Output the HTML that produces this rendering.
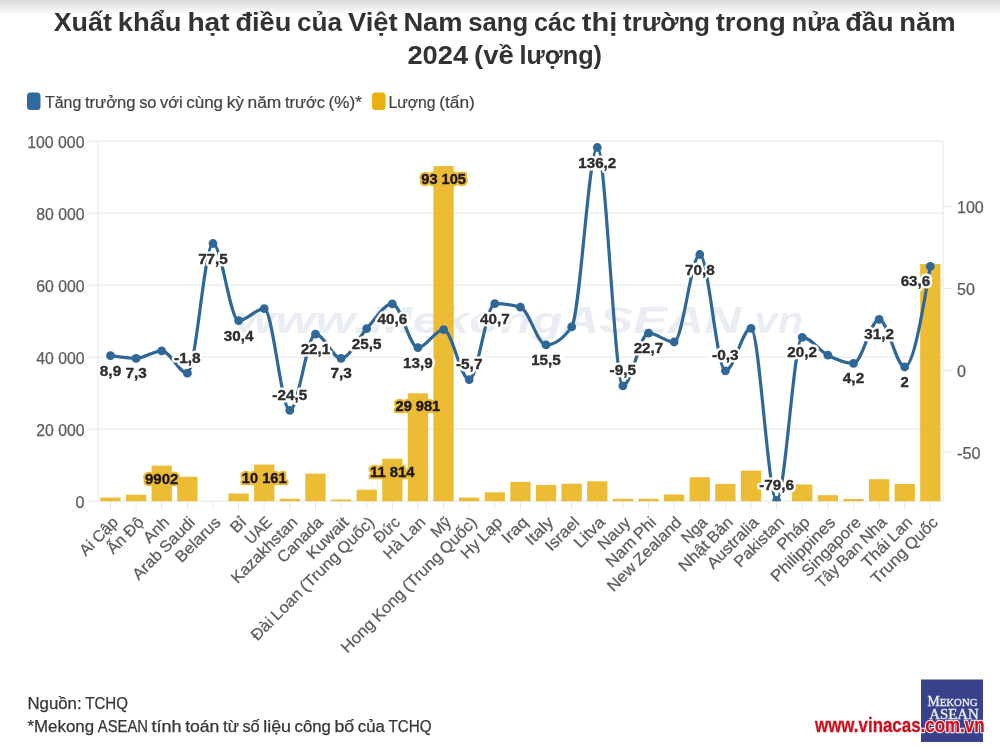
<!DOCTYPE html>
<html lang="vi"><head><meta charset="utf-8"><title>Xuất khẩu hạt điều của Việt Nam</title>
<style>
html,body{margin:0;padding:0;background:#fff;}
body{width:1000px;height:749px;overflow:hidden;}
svg{display:block;font-family:"Liberation Sans", sans-serif;}
.title{font-weight:700;font-size:26px;fill:#333;}
.body{font-size:16px;fill:#444;stroke:#444;stroke-width:0.2px;}
.foot{font-size:16px;fill:#363636;stroke:#363636;stroke-width:0.25px;}
.ax{font-size:16px;fill:#5c5c5c;stroke:#5c5c5c;stroke-width:0.25px;}
.gl,.vl,.lt,.lb{font-weight:700;font-size:14.5px;text-anchor:middle;}
.gl{fill:#fff;stroke:#fff;stroke-width:5px;stroke-linejoin:round;}
.lt{fill:#2e2e2e;stroke:#2e2e2e;stroke-width:0.35px;}
.lb{fill:#1c1608;stroke:#1c1608;stroke-width:0.35px;}
.vl{fill:#ebbb36;stroke:#ebbb36;stroke-width:4.6px;stroke-linejoin:round;}
.grid line{stroke:#e6e6e6;stroke-width:1;}
.bars rect{fill:#e9b010;fill-opacity:0.85;}
.dots circle{fill:#2f6898;}
</style></head><body>
<svg width="1000" height="749" viewBox="0 0 1000 749">
<defs><clipPath id="cp"><rect x="90" y="141.2" width="860" height="360"/></clipPath><linearGradient id="tg" x1="0" y1="0" x2="0" y2="1"><stop offset="0" stop-color="#dbdbdb"/><stop offset="1" stop-color="#ffffff"/></linearGradient></defs>
<rect x="0" y="0" width="1000" height="749" fill="#ffffff"/>
<rect x="0" y="0" width="1000" height="15" fill="url(#tg)"/>

<text class="title" y="31"><tspan x="53.7" textLength="58.2" lengthAdjust="spacingAndGlyphs">Xuất</tspan> <tspan x="117.7" textLength="63.9" lengthAdjust="spacingAndGlyphs">khẩu</tspan> <tspan x="187.4" textLength="42.2" lengthAdjust="spacingAndGlyphs">hạt</tspan> <tspan x="235.4" textLength="55.9" lengthAdjust="spacingAndGlyphs">điều</tspan> <tspan x="297" textLength="45.1" lengthAdjust="spacingAndGlyphs">của</tspan> <tspan x="347.9" textLength="49.7" lengthAdjust="spacingAndGlyphs">Việt</tspan> <tspan x="403.4" textLength="59.2" lengthAdjust="spacingAndGlyphs">Nam</tspan> <tspan x="468.3" textLength="59.9" lengthAdjust="spacingAndGlyphs">sang</tspan> <tspan x="534.1" textLength="41.9" lengthAdjust="spacingAndGlyphs">các</tspan> <tspan x="581.8" textLength="35.5" lengthAdjust="spacingAndGlyphs">thị</tspan> <tspan x="623.1" textLength="86.9" lengthAdjust="spacingAndGlyphs">trường</tspan> <tspan x="715.7" textLength="70.2" lengthAdjust="spacingAndGlyphs">trong</tspan> <tspan x="791.7" textLength="47.8" lengthAdjust="spacingAndGlyphs">nửa</tspan> <tspan x="845.3" textLength="48.2" lengthAdjust="spacingAndGlyphs">đầu</tspan> <tspan x="899.2" textLength="56.5" lengthAdjust="spacingAndGlyphs">năm</tspan></text>
<text class="title" y="63.6"><tspan x="407.4" textLength="60.8" lengthAdjust="spacingAndGlyphs">2024</tspan> <tspan x="474.1" textLength="39.7" lengthAdjust="spacingAndGlyphs">(về</tspan> <tspan x="519.5" textLength="82.5" lengthAdjust="spacingAndGlyphs">lượng)</tspan></text>
<rect x="27" y="92.5" width="13.5" height="17.5" rx="3.5" fill="#2f6ba0"/>
<text class="body" y="107.5"><tspan x="45" textLength="36.3" lengthAdjust="spacingAndGlyphs">Tăng</tspan> <tspan x="84.9" textLength="50.7" lengthAdjust="spacingAndGlyphs">trưởng</tspan> <tspan x="139.2" textLength="17.3" lengthAdjust="spacingAndGlyphs">so</tspan> <tspan x="160.1" textLength="22.5" lengthAdjust="spacingAndGlyphs">với</tspan> <tspan x="186.2" textLength="36.9" lengthAdjust="spacingAndGlyphs">cùng</tspan> <tspan x="226.7" textLength="17.3" lengthAdjust="spacingAndGlyphs">kỳ</tspan> <tspan x="247.5" textLength="33.8" lengthAdjust="spacingAndGlyphs">năm</tspan> <tspan x="285" textLength="40" lengthAdjust="spacingAndGlyphs">trước</tspan> <tspan x="328.6" textLength="33.2" lengthAdjust="spacingAndGlyphs">(%)*</tspan></text>
<rect x="372" y="92.5" width="13.5" height="17.5" rx="3.5" fill="#e9b010"/>
<text class="body" y="107.5"><tspan x="388.5" textLength="47.1" lengthAdjust="spacingAndGlyphs">Lượng</tspan> <tspan x="439.2" textLength="35.6" lengthAdjust="spacingAndGlyphs">(tấn)</tspan></text>
<g class="grid">
<line x1="89" x2="943" y1="501.2" y2="501.2"/>
<line x1="89" x2="943" y1="429.2" y2="429.2"/>
<line x1="89" x2="943" y1="357.2" y2="357.2"/>
<line x1="89" x2="943" y1="285.2" y2="285.2"/>
<line x1="89" x2="943" y1="213.2" y2="213.2"/>
<line x1="89" x2="943" y1="141.2" y2="141.2"/>
<line x1="98.2" x2="98.2" y1="141.2" y2="501.2"/>
<line x1="943" x2="943" y1="141.2" y2="501.2"/>
<line x1="943" x2="952" y1="206.7" y2="206.7"/>
<line x1="943" x2="952" y1="288.5" y2="288.5"/>
<line x1="943" x2="952" y1="370.3" y2="370.3"/>
<line x1="943" x2="952" y1="452.1" y2="452.1"/>
<line x1="110.5" x2="110.5" y1="501.2" y2="510.3"/>
<line x1="136.1" x2="136.1" y1="501.2" y2="510.3"/>
<line x1="161.7" x2="161.7" y1="501.2" y2="510.3"/>
<line x1="187.4" x2="187.4" y1="501.2" y2="510.3"/>
<line x1="213" x2="213" y1="501.2" y2="510.3"/>
<line x1="238.6" x2="238.6" y1="501.2" y2="510.3"/>
<line x1="264.2" x2="264.2" y1="501.2" y2="510.3"/>
<line x1="289.8" x2="289.8" y1="501.2" y2="510.3"/>
<line x1="315.5" x2="315.5" y1="501.2" y2="510.3"/>
<line x1="341.1" x2="341.1" y1="501.2" y2="510.3"/>
<line x1="366.7" x2="366.7" y1="501.2" y2="510.3"/>
<line x1="392.3" x2="392.3" y1="501.2" y2="510.3"/>
<line x1="417.9" x2="417.9" y1="501.2" y2="510.3"/>
<line x1="443.6" x2="443.6" y1="501.2" y2="510.3"/>
<line x1="469.2" x2="469.2" y1="501.2" y2="510.3"/>
<line x1="494.8" x2="494.8" y1="501.2" y2="510.3"/>
<line x1="520.4" x2="520.4" y1="501.2" y2="510.3"/>
<line x1="546" x2="546" y1="501.2" y2="510.3"/>
<line x1="571.7" x2="571.7" y1="501.2" y2="510.3"/>
<line x1="597.3" x2="597.3" y1="501.2" y2="510.3"/>
<line x1="622.9" x2="622.9" y1="501.2" y2="510.3"/>
<line x1="648.5" x2="648.5" y1="501.2" y2="510.3"/>
<line x1="674.1" x2="674.1" y1="501.2" y2="510.3"/>
<line x1="699.8" x2="699.8" y1="501.2" y2="510.3"/>
<line x1="725.4" x2="725.4" y1="501.2" y2="510.3"/>
<line x1="751" x2="751" y1="501.2" y2="510.3"/>
<line x1="776.6" x2="776.6" y1="501.2" y2="510.3"/>
<line x1="802.2" x2="802.2" y1="501.2" y2="510.3"/>
<line x1="827.9" x2="827.9" y1="501.2" y2="510.3"/>
<line x1="853.5" x2="853.5" y1="501.2" y2="510.3"/>
<line x1="879.1" x2="879.1" y1="501.2" y2="510.3"/>
<line x1="904.7" x2="904.7" y1="501.2" y2="510.3"/>
<line x1="930.3" x2="930.3" y1="501.2" y2="510.3"/>
</g>
<g font-size="37" font-weight="700" font-style="italic" fill="#ebedf5"><text x="235" y="332.5" textLength="133" lengthAdjust="spacingAndGlyphs">www.</text><text x="370" y="332.5" textLength="371" lengthAdjust="spacingAndGlyphs">MekongASEAN</text><text x="743" y="332.5" textLength="60" lengthAdjust="spacingAndGlyphs">.vn</text></g>
<text class="ax" x="84.5" y="507.6" text-anchor="end" textLength="9.0" lengthAdjust="spacingAndGlyphs">0</text>
<text class="ax" x="84.5" y="435.6" text-anchor="end" textLength="48.3" lengthAdjust="spacingAndGlyphs">20 000</text>
<text class="ax" x="84.5" y="363.6" text-anchor="end" textLength="48.3" lengthAdjust="spacingAndGlyphs">40 000</text>
<text class="ax" x="84.5" y="291.6" text-anchor="end" textLength="48.3" lengthAdjust="spacingAndGlyphs">60 000</text>
<text class="ax" x="84.5" y="219.6" text-anchor="end" textLength="48.3" lengthAdjust="spacingAndGlyphs">80 000</text>
<text class="ax" x="84.5" y="147.6" text-anchor="end" textLength="57.3" lengthAdjust="spacingAndGlyphs">100 000</text>
<text class="ax" x="957" y="213.1" textLength="26.8" lengthAdjust="spacingAndGlyphs">100</text>
<text class="ax" x="957" y="294.9" textLength="17.9" lengthAdjust="spacingAndGlyphs">50</text>
<text class="ax" x="957" y="376.7" textLength="9.0" lengthAdjust="spacingAndGlyphs">0</text>
<text class="ax" x="957" y="458.5" textLength="23.5" lengthAdjust="spacingAndGlyphs">-50</text>
<g class="bars">
<rect x="100.3" y="497.6" width="20.3" height="3.6"/>
<rect x="126" y="494.7" width="20.3" height="6.5"/>
<rect x="151.6" y="465.6" width="20.3" height="35.6"/>
<rect x="177.2" y="476.7" width="20.3" height="24.5"/>
<rect x="202.8" y="501.1" width="20.3" height="0.1"/>
<rect x="228.4" y="493.5" width="20.3" height="7.7"/>
<rect x="254.1" y="464.6" width="20.3" height="36.6"/>
<rect x="279.7" y="498.8" width="20.3" height="2.4"/>
<rect x="305.3" y="473.6" width="20.3" height="27.6"/>
<rect x="330.9" y="499.5" width="20.3" height="1.7"/>
<rect x="356.6" y="489.7" width="20.3" height="11.5"/>
<rect x="382.2" y="458.7" width="20.3" height="42.5"/>
<rect x="407.8" y="393.3" width="20.3" height="107.9"/>
<rect x="433.4" y="166" width="20.3" height="335.2"/>
<rect x="459" y="497.6" width="20.3" height="3.6"/>
<rect x="484.7" y="492.3" width="20.3" height="8.9"/>
<rect x="510.3" y="482" width="20.3" height="19.2"/>
<rect x="535.9" y="484.9" width="20.3" height="16.3"/>
<rect x="561.5" y="483.7" width="20.3" height="17.5"/>
<rect x="587.1" y="481.3" width="20.3" height="19.9"/>
<rect x="612.8" y="498.8" width="20.3" height="2.4"/>
<rect x="638.4" y="498.8" width="20.3" height="2.4"/>
<rect x="664" y="494.5" width="20.3" height="6.7"/>
<rect x="689.6" y="477.2" width="20.3" height="24"/>
<rect x="715.2" y="483.9" width="20.3" height="17.3"/>
<rect x="740.9" y="470.6" width="20.3" height="30.6"/>
<rect x="766.5" y="501.2" width="20.3" height="0"/>
<rect x="792.1" y="484.5" width="20.3" height="16.7"/>
<rect x="817.7" y="495.2" width="20.3" height="6"/>
<rect x="843.3" y="499" width="20.3" height="2.2"/>
<rect x="869" y="479.2" width="20.3" height="22"/>
<rect x="894.6" y="484" width="20.3" height="17.2"/>
<rect x="920.2" y="264" width="20.3" height="237.2"/>
</g>
<g clip-path="url(#cp)">
<path d="M110.5,355.7C119,357,127.6,358.4,136.1,358.4C144.7,358.4,153.2,350.8,161.7,350.8C170.3,350.8,178.8,373.2,187.4,373.2C195.9,373.2,204.4,243.5,213,243.5C221.5,243.5,230.1,320.6,238.6,320.6C247.1,320.6,255.7,308.6,264.2,308.6C272.8,308.6,281.3,410.4,289.8,410.4C298.4,410.4,306.9,334.1,315.5,334.1C324,334.1,332.5,358.4,341.1,358.4C349.6,358.4,358.2,337.7,366.7,328.6C375.2,319.5,383.8,303.9,392.3,303.9C400.9,303.9,409.4,347.6,417.9,347.6C426.5,347.6,435,329.6,443.6,329.6C452.1,329.6,460.6,379.6,469.2,379.6C477.7,379.6,486.3,303.7,494.8,303.7C503.3,303.7,511.9,304.9,520.4,307.2C529,309.4,537.5,344.9,546,344.9C554.6,344.9,563.1,338.9,571.7,326.9C580.2,314.9,588.7,147.5,597.3,147.5C605.8,147.5,614.4,385.8,622.9,385.8C631.4,385.8,640,333.2,648.5,333.2C657.1,333.2,665.6,342,674.1,342C682.7,342,691.2,254.5,699.8,254.5C708.3,254.5,716.8,370.8,725.4,370.8C733.9,370.8,742.5,328.4,751,328.4C759.5,328.4,768.1,500.5,776.6,500.5C785.2,500.5,793.7,337.3,802.2,337.3C810.8,337.3,819.3,350.9,827.9,355.2C836.4,359.6,844.9,363.4,853.5,363.4C862,363.4,870.6,319.3,879.1,319.3C887.6,319.3,896.2,367,904.7,367C913.3,367,921.8,316.6,930.3,266.3" fill="none" stroke="#2f6898" stroke-width="3.2" stroke-linejoin="round" stroke-linecap="round"/>
<g class="dots">
<circle cx="110.5" cy="355.7" r="4.4"/>
<circle cx="136.1" cy="358.4" r="4.4"/>
<circle cx="161.7" cy="350.8" r="4.4"/>
<circle cx="187.4" cy="373.2" r="4.4"/>
<circle cx="213" cy="243.5" r="4.4"/>
<circle cx="238.6" cy="320.6" r="4.4"/>
<circle cx="264.2" cy="308.6" r="4.4"/>
<circle cx="289.8" cy="410.4" r="4.4"/>
<circle cx="315.5" cy="334.1" r="4.4"/>
<circle cx="341.1" cy="358.4" r="4.4"/>
<circle cx="366.7" cy="328.6" r="4.4"/>
<circle cx="392.3" cy="303.9" r="4.4"/>
<circle cx="417.9" cy="347.6" r="4.4"/>
<circle cx="443.6" cy="329.6" r="4.4"/>
<circle cx="469.2" cy="379.6" r="4.4"/>
<circle cx="494.8" cy="303.7" r="4.4"/>
<circle cx="520.4" cy="307.2" r="4.4"/>
<circle cx="546" cy="344.9" r="4.4"/>
<circle cx="571.7" cy="326.9" r="4.4"/>
<circle cx="597.3" cy="147.5" r="4.4"/>
<circle cx="622.9" cy="385.8" r="4.4"/>
<circle cx="648.5" cy="333.2" r="4.4"/>
<circle cx="674.1" cy="342" r="4.4"/>
<circle cx="699.8" cy="254.5" r="4.4"/>
<circle cx="725.4" cy="370.8" r="4.4"/>
<circle cx="751" cy="328.4" r="4.4"/>
<circle cx="776.6" cy="500.5" r="4.4"/>
<circle cx="802.2" cy="337.3" r="4.4"/>
<circle cx="827.9" cy="355.2" r="4.4"/>
<circle cx="853.5" cy="363.4" r="4.4"/>
<circle cx="879.1" cy="319.3" r="4.4"/>
<circle cx="904.7" cy="367" r="4.4"/>
<circle cx="930.3" cy="266.3" r="4.4"/>
</g></g>
<text class="ax" transform="translate(119.1,523.3) rotate(-45)"><tspan x="-47.2" textLength="14.2" lengthAdjust="spacingAndGlyphs">Ai</tspan> <tspan x="-29.3" textLength="29.3" lengthAdjust="spacingAndGlyphs">Cập</tspan></text>
<text class="ax" transform="translate(144.7,523.3) rotate(-45)"><tspan x="-44.4" textLength="19.6" lengthAdjust="spacingAndGlyphs">Ấn</tspan> <tspan x="-21.2" textLength="21.2" lengthAdjust="spacingAndGlyphs">Độ</tspan></text>
<text class="ax" transform="translate(170.3,523.3) rotate(-45)"><tspan x="-29.4" textLength="29.4" lengthAdjust="spacingAndGlyphs">Anh</tspan></text>
<text class="ax" transform="translate(196,523.3) rotate(-45)"><tspan x="-81.1" textLength="34.6" lengthAdjust="spacingAndGlyphs">Arab</tspan> <tspan x="-42.9" textLength="42.9" lengthAdjust="spacingAndGlyphs">Saudi</tspan></text>
<text class="ax" transform="translate(221.6,523.3) rotate(-45)"><tspan x="-56.8" textLength="56.8" lengthAdjust="spacingAndGlyphs">Belarus</tspan></text>
<text class="ax" transform="translate(247.2,523.3) rotate(-45)"><tspan x="-15" textLength="15" lengthAdjust="spacingAndGlyphs">Bỉ</tspan></text>
<text class="ax" transform="translate(272.8,523.3) rotate(-45)"><tspan x="-30.6" textLength="30.6" lengthAdjust="spacingAndGlyphs">UAE</tspan></text>
<text class="ax" transform="translate(298.4,523.3) rotate(-45)"><tspan x="-86.3" textLength="86.3" lengthAdjust="spacingAndGlyphs">Kazakhstan</tspan></text>
<text class="ax" transform="translate(324.1,523.3) rotate(-45)"><tspan x="-57.3" textLength="57.3" lengthAdjust="spacingAndGlyphs">Canada</tspan></text>
<text class="ax" transform="translate(349.7,523.3) rotate(-45)"><tspan x="-52.3" textLength="52.3" lengthAdjust="spacingAndGlyphs">Kuwait</tspan></text>
<text class="ax" transform="translate(375.3,523.3) rotate(-45)"><tspan x="-167.1" textLength="24.9" lengthAdjust="spacingAndGlyphs">Đài</tspan> <tspan x="-138.5" textLength="37" lengthAdjust="spacingAndGlyphs">Loan</tspan> <tspan x="-98" textLength="49.2" lengthAdjust="spacingAndGlyphs">(Trung</tspan> <tspan x="-45.2" textLength="45.2" lengthAdjust="spacingAndGlyphs">Quốc)</tspan></text>
<text class="ax" transform="translate(400.9,523.3) rotate(-45)"><tspan x="-29.4" textLength="29.4" lengthAdjust="spacingAndGlyphs">Đức</tspan></text>
<text class="ax" transform="translate(426.5,523.3) rotate(-45)"><tspan x="-52.1" textLength="20.8" lengthAdjust="spacingAndGlyphs">Hà</tspan> <tspan x="-27.7" textLength="27.7" lengthAdjust="spacingAndGlyphs">Lan</tspan></text>
<text class="ax" transform="translate(452.2,523.3) rotate(-45)"><tspan x="-21.5" textLength="21.5" lengthAdjust="spacingAndGlyphs">Mỹ</tspan></text>
<text class="ax" transform="translate(477.8,523.3) rotate(-45)"><tspan x="-184.6" textLength="40.4" lengthAdjust="spacingAndGlyphs">Hong</tspan> <tspan x="-140.5" textLength="39" lengthAdjust="spacingAndGlyphs">Kong</tspan> <tspan x="-98" textLength="49.2" lengthAdjust="spacingAndGlyphs">(Trung</tspan> <tspan x="-45.2" textLength="45.2" lengthAdjust="spacingAndGlyphs">Quốc)</tspan></text>
<text class="ax" transform="translate(503.4,523.3) rotate(-45)"><tspan x="-51.6" textLength="20.2" lengthAdjust="spacingAndGlyphs">Hy</tspan> <tspan x="-27.8" textLength="27.8" lengthAdjust="spacingAndGlyphs">Lạp</tspan></text>
<text class="ax" transform="translate(529,523.3) rotate(-45)"><tspan x="-29.6" textLength="29.6" lengthAdjust="spacingAndGlyphs">Iraq</tspan></text>
<text class="ax" transform="translate(554.6,523.3) rotate(-45)"><tspan x="-32.5" textLength="32.5" lengthAdjust="spacingAndGlyphs">Italy</tspan></text>
<text class="ax" transform="translate(580.3,523.3) rotate(-45)"><tspan x="-40.7" textLength="40.7" lengthAdjust="spacingAndGlyphs">Israel</tspan></text>
<text class="ax" transform="translate(605.9,523.3) rotate(-45)"><tspan x="-36.4" textLength="36.4" lengthAdjust="spacingAndGlyphs">Litva</tspan></text>
<text class="ax" transform="translate(631.5,523.3) rotate(-45)"><tspan x="-38.9" textLength="38.9" lengthAdjust="spacingAndGlyphs">Nauy</tspan></text>
<text class="ax" transform="translate(657.1,523.3) rotate(-45)"><tspan x="-63.7" textLength="35.6" lengthAdjust="spacingAndGlyphs">Nam</tspan> <tspan x="-24.4" textLength="24.4" lengthAdjust="spacingAndGlyphs">Phi</tspan></text>
<text class="ax" transform="translate(682.7,523.3) rotate(-45)"><tspan x="-97.8" textLength="33.6" lengthAdjust="spacingAndGlyphs">New</tspan> <tspan x="-60.6" textLength="60.6" lengthAdjust="spacingAndGlyphs">Zealand</tspan></text>
<text class="ax" transform="translate(708.4,523.3) rotate(-45)"><tspan x="-29.5" textLength="29.5" lengthAdjust="spacingAndGlyphs">Nga</tspan></text>
<text class="ax" transform="translate(734,523.3) rotate(-45)"><tspan x="-69.5" textLength="36.4" lengthAdjust="spacingAndGlyphs">Nhật</tspan> <tspan x="-29.5" textLength="29.5" lengthAdjust="spacingAndGlyphs">Bản</tspan></text>
<text class="ax" transform="translate(759.6,523.3) rotate(-45)"><tspan x="-65.7" textLength="65.7" lengthAdjust="spacingAndGlyphs">Australia</tspan></text>
<text class="ax" transform="translate(785.2,523.3) rotate(-45)"><tspan x="-63.6" textLength="63.6" lengthAdjust="spacingAndGlyphs">Pakistan</tspan></text>
<text class="ax" transform="translate(810.8,523.3) rotate(-45)"><tspan x="-39" textLength="39" lengthAdjust="spacingAndGlyphs">Pháp</tspan></text>
<text class="ax" transform="translate(836.5,523.3) rotate(-45)"><tspan x="-84.2" textLength="84.2" lengthAdjust="spacingAndGlyphs">Philippines</tspan></text>
<text class="ax" transform="translate(862.1,523.3) rotate(-45)"><tspan x="-76.5" textLength="76.5" lengthAdjust="spacingAndGlyphs">Singapore</tspan></text>
<text class="ax" transform="translate(887.7,523.3) rotate(-45)"><tspan x="-93" textLength="25.8" lengthAdjust="spacingAndGlyphs">Tây</tspan> <tspan x="-63.6" textLength="29.5" lengthAdjust="spacingAndGlyphs">Ban</tspan> <tspan x="-30.5" textLength="30.5" lengthAdjust="spacingAndGlyphs">Nha</tspan></text>
<text class="ax" transform="translate(913.3,523.3) rotate(-45)"><tspan x="-64.2" textLength="33" lengthAdjust="spacingAndGlyphs">Thái</tspan> <tspan x="-27.7" textLength="27.7" lengthAdjust="spacingAndGlyphs">Lan</tspan></text>
<text class="ax" transform="translate(938.9,523.3) rotate(-45)"><tspan x="-87.1" textLength="43.8" lengthAdjust="spacingAndGlyphs">Trung</tspan> <tspan x="-39.7" textLength="39.7" lengthAdjust="spacingAndGlyphs">Quốc</tspan></text>
<text class="vl" x="161.7" y="483.6" textLength="33.3" lengthAdjust="spacingAndGlyphs">9902</text>
<text class="lb" x="161.7" y="483.6" textLength="33.3" lengthAdjust="spacingAndGlyphs">9902</text>
<text class="vl" x="264.2" y="482.6" textLength="44.7" lengthAdjust="spacingAndGlyphs">10 161</text>
<text class="lb" x="264.2" y="482.6" textLength="44.7" lengthAdjust="spacingAndGlyphs">10 161</text>
<text class="vl" x="392.3" y="476.7" textLength="44.7" lengthAdjust="spacingAndGlyphs">11 814</text>
<text class="lb" x="392.3" y="476.7" textLength="44.7" lengthAdjust="spacingAndGlyphs">11 814</text>
<text class="vl" x="417.9" y="411.3" textLength="44.7" lengthAdjust="spacingAndGlyphs">29 981</text>
<text class="lb" x="417.9" y="411.3" textLength="44.7" lengthAdjust="spacingAndGlyphs">29 981</text>
<text class="vl" x="443.6" y="184" textLength="44.7" lengthAdjust="spacingAndGlyphs">93 105</text>
<text class="lb" x="443.6" y="184" textLength="44.7" lengthAdjust="spacingAndGlyphs">93 105</text>
<text class="gl" x="110.5" y="375.7" textLength="21.4" lengthAdjust="spacingAndGlyphs">8,9</text>
<text class="lt" x="110.5" y="375.7" textLength="21.4" lengthAdjust="spacingAndGlyphs">8,9</text>
<text class="gl" x="136.1" y="378.4" textLength="21.4" lengthAdjust="spacingAndGlyphs">7,3</text>
<text class="lt" x="136.1" y="378.4" textLength="21.4" lengthAdjust="spacingAndGlyphs">7,3</text>
<text class="gl" x="187.4" y="362.7" textLength="26.6" lengthAdjust="spacingAndGlyphs">-1,8</text>
<text class="lt" x="187.4" y="362.7" textLength="26.6" lengthAdjust="spacingAndGlyphs">-1,8</text>
<text class="gl" x="213" y="263.5" textLength="29.7" lengthAdjust="spacingAndGlyphs">77,5</text>
<text class="lt" x="213" y="263.5" textLength="29.7" lengthAdjust="spacingAndGlyphs">77,5</text>
<text class="gl" x="238.6" y="340.6" textLength="29.7" lengthAdjust="spacingAndGlyphs">30,4</text>
<text class="lt" x="238.6" y="340.6" textLength="29.7" lengthAdjust="spacingAndGlyphs">30,4</text>
<text class="gl" x="289.8" y="399.9" textLength="34.9" lengthAdjust="spacingAndGlyphs">-24,5</text>
<text class="lt" x="289.8" y="399.9" textLength="34.9" lengthAdjust="spacingAndGlyphs">-24,5</text>
<text class="gl" x="315.5" y="354.1" textLength="29.7" lengthAdjust="spacingAndGlyphs">22,1</text>
<text class="lt" x="315.5" y="354.1" textLength="29.7" lengthAdjust="spacingAndGlyphs">22,1</text>
<text class="gl" x="341.1" y="378.4" textLength="21.4" lengthAdjust="spacingAndGlyphs">7,3</text>
<text class="lt" x="341.1" y="378.4" textLength="21.4" lengthAdjust="spacingAndGlyphs">7,3</text>
<text class="gl" x="366.7" y="348.6" textLength="29.7" lengthAdjust="spacingAndGlyphs">25,5</text>
<text class="lt" x="366.7" y="348.6" textLength="29.7" lengthAdjust="spacingAndGlyphs">25,5</text>
<text class="gl" x="392.3" y="323.9" textLength="29.7" lengthAdjust="spacingAndGlyphs">40,6</text>
<text class="lt" x="392.3" y="323.9" textLength="29.7" lengthAdjust="spacingAndGlyphs">40,6</text>
<text class="gl" x="417.9" y="367.6" textLength="29.7" lengthAdjust="spacingAndGlyphs">13,9</text>
<text class="lt" x="417.9" y="367.6" textLength="29.7" lengthAdjust="spacingAndGlyphs">13,9</text>
<text class="gl" x="469.2" y="369.1" textLength="26.6" lengthAdjust="spacingAndGlyphs">-5,7</text>
<text class="lt" x="469.2" y="369.1" textLength="26.6" lengthAdjust="spacingAndGlyphs">-5,7</text>
<text class="gl" x="494.8" y="323.7" textLength="29.7" lengthAdjust="spacingAndGlyphs">40,7</text>
<text class="lt" x="494.8" y="323.7" textLength="29.7" lengthAdjust="spacingAndGlyphs">40,7</text>
<text class="gl" x="546" y="364.9" textLength="29.7" lengthAdjust="spacingAndGlyphs">15,5</text>
<text class="lt" x="546" y="364.9" textLength="29.7" lengthAdjust="spacingAndGlyphs">15,5</text>
<text class="gl" x="597.3" y="167.5" textLength="38" lengthAdjust="spacingAndGlyphs">136,2</text>
<text class="lt" x="597.3" y="167.5" textLength="38" lengthAdjust="spacingAndGlyphs">136,2</text>
<text class="gl" x="622.9" y="375.3" textLength="26.6" lengthAdjust="spacingAndGlyphs">-9,5</text>
<text class="lt" x="622.9" y="375.3" textLength="26.6" lengthAdjust="spacingAndGlyphs">-9,5</text>
<text class="gl" x="648.5" y="353.2" textLength="29.7" lengthAdjust="spacingAndGlyphs">22,7</text>
<text class="lt" x="648.5" y="353.2" textLength="29.7" lengthAdjust="spacingAndGlyphs">22,7</text>
<text class="gl" x="699.8" y="274.5" textLength="29.7" lengthAdjust="spacingAndGlyphs">70,8</text>
<text class="lt" x="699.8" y="274.5" textLength="29.7" lengthAdjust="spacingAndGlyphs">70,8</text>
<text class="gl" x="725.4" y="360.3" textLength="26.6" lengthAdjust="spacingAndGlyphs">-0,3</text>
<text class="lt" x="725.4" y="360.3" textLength="26.6" lengthAdjust="spacingAndGlyphs">-0,3</text>
<text class="gl" x="776.6" y="490" textLength="34.9" lengthAdjust="spacingAndGlyphs">-79,6</text>
<text class="lt" x="776.6" y="490" textLength="34.9" lengthAdjust="spacingAndGlyphs">-79,6</text>
<text class="gl" x="802.2" y="357.3" textLength="29.7" lengthAdjust="spacingAndGlyphs">20,2</text>
<text class="lt" x="802.2" y="357.3" textLength="29.7" lengthAdjust="spacingAndGlyphs">20,2</text>
<text class="gl" x="853.5" y="383.4" textLength="21.4" lengthAdjust="spacingAndGlyphs">4,2</text>
<text class="lt" x="853.5" y="383.4" textLength="21.4" lengthAdjust="spacingAndGlyphs">4,2</text>
<text class="gl" x="879.1" y="339.3" textLength="29.7" lengthAdjust="spacingAndGlyphs">31,2</text>
<text class="lt" x="879.1" y="339.3" textLength="29.7" lengthAdjust="spacingAndGlyphs">31,2</text>
<text class="gl" x="904.7" y="387" textLength="8.3" lengthAdjust="spacingAndGlyphs">2</text>
<text class="lt" x="904.7" y="387" textLength="8.3" lengthAdjust="spacingAndGlyphs">2</text>
<text class="gl" x="915.5" y="286.3" textLength="29.7" lengthAdjust="spacingAndGlyphs">63,6</text>
<text class="lt" x="915.5" y="286.3" textLength="29.7" lengthAdjust="spacingAndGlyphs">63,6</text>
<text class="foot" y="708.5"><tspan x="27.5" textLength="54.1" lengthAdjust="spacingAndGlyphs">Nguồn:</tspan> <tspan x="85.2" textLength="42.8" lengthAdjust="spacingAndGlyphs">TCHQ</tspan></text>
<text class="foot" y="731.8"><tspan x="27.5" textLength="66.6" lengthAdjust="spacingAndGlyphs">*Mekong</tspan> <tspan x="97.8" textLength="50.2" lengthAdjust="spacingAndGlyphs">ASEAN</tspan> <tspan x="151.5" textLength="30.1" lengthAdjust="spacingAndGlyphs">tính</tspan> <tspan x="185.2" textLength="34.2" lengthAdjust="spacingAndGlyphs">toán</tspan> <tspan x="223" textLength="15.9" lengthAdjust="spacingAndGlyphs">từ</tspan> <tspan x="242.4" textLength="17.3" lengthAdjust="spacingAndGlyphs">số</tspan> <tspan x="263.3" textLength="27.7" lengthAdjust="spacingAndGlyphs">liệu</tspan> <tspan x="294.5" textLength="36.4" lengthAdjust="spacingAndGlyphs">công</tspan> <tspan x="334.5" textLength="19.7" lengthAdjust="spacingAndGlyphs">bố</tspan> <tspan x="357.8" textLength="27" lengthAdjust="spacingAndGlyphs">của</tspan> <tspan x="388.4" textLength="43.1" lengthAdjust="spacingAndGlyphs">TCHQ</tspan></text>
<rect x="921" y="679.5" width="62" height="62.5" fill="#38428b"/>
<g font-family="'Liberation Serif', serif" fill="#eceef6" stroke="#eceef6" stroke-width="0.35">
<text x="927.5" y="705.7" font-size="14" textLength="50" lengthAdjust="spacingAndGlyphs">M<tspan font-size="11">EKONG</tspan></text>
<text x="929.3" y="718.8" font-size="15" textLength="49.5" lengthAdjust="spacingAndGlyphs">ASEAN</text>
</g>
<text x="815" y="732" font-size="20" font-weight="700" fill="#ffffff" stroke="#ffffff" stroke-width="2.4" stroke-linejoin="round" textLength="169.5" lengthAdjust="spacingAndGlyphs">www.vinacas.com.vn</text>
<text x="815" y="732" font-size="20" font-weight="700" fill="#cf0f1f" stroke="#cf0f1f" stroke-width="0.3" textLength="169.5" lengthAdjust="spacingAndGlyphs">www.vinacas.com.vn</text>
</svg></body></html>
